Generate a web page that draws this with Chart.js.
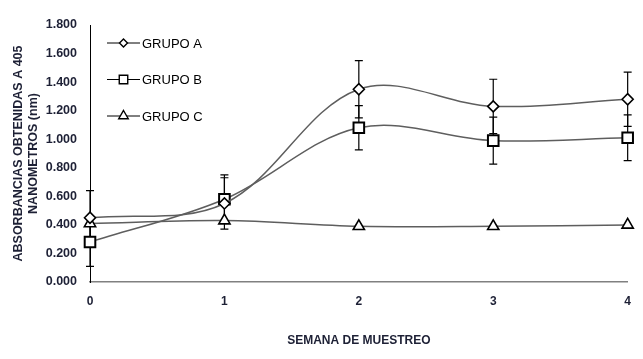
<!DOCTYPE html>
<html>
<head>
<meta charset="utf-8">
<script src="https://cdn.jsdelivr.net/npm/chart.js@4/dist/chart.umd.min.js"></script>
<style>
  html, body { margin: 0; padding: 0; background: #fff; }
  #wrap { width: 643px; height: 359px; position: relative; }
</style>
</head>
<body>
<div id="wrap"><canvas id="chart"></canvas></div>
<script>
// datos
const semanas = [0, 1, 2, 3, 4];
const grupoA = [0.45, 0.55, 1.35, 1.23, 1.28];
const grupoB = [0.28, 0.58, 1.08, 0.99, 1.01];
const grupoC = [0.41, 0.43, 0.39, 0.39, 0.40];
const errorA = [0.19, 0.18, 0.20, 0.19, 0.19];
const errorB = [0.17, 0.17, 0.155, 0.165, 0.16];
const errorC = [0, 0, 0, 0, 0];
const etiquetas = ["GRUPO A", "GRUPO B", "GRUPO C"];
const yTitulo = ["ABSORBANCIAS OBTENIDAS A 405", "NANOMETROS (nm)"];
const xTitulo = "SEMANA DE MUESTREO";

const textColor = "#1d2035";
Chart.defaults.font.family = "'Liberation Sans', Arial, sans-serif";

function toPoints(vals) {
  return semanas.map((s, i) => ({ x: s, y: vals[i] }));
}

// dibuja un marcador simple (para la leyenda)
function drawMarker(ctx, style, x, y, r, lw) {
  ctx.save();
  ctx.beginPath();
  if (style === "rectRot") {
    ctx.moveTo(x, y - r); ctx.lineTo(x + r, y); ctx.lineTo(x, y + r); ctx.lineTo(x - r, y);
    ctx.closePath();
  } else if (style === "rect") {
    const s = r * Math.SQRT1_2;
    ctx.rect(x - s, y - s, 2 * s, 2 * s);
  } else {
    ctx.moveTo(x, y - r);
    ctx.lineTo(x + r * 0.866, y + r * 0.5);
    ctx.lineTo(x - r * 0.866, y + r * 0.5);
    ctx.closePath();
  }
  ctx.fillStyle = "#fff";
  ctx.fill();
  ctx.lineWidth = lw;
  ctx.strokeStyle = "#000";
  ctx.stroke();
  ctx.restore();
}

// barras de error (desviación) con la escala del gráfico
const errorBars = {
  id: "errorBars",
  beforeDatasetsDraw(chart) {
    const ctx = chart.ctx;
    const xs = chart.scales.x, ys = chart.scales.y;
    const errs = [errorA, errorB, errorC];
    ctx.save();
    ctx.strokeStyle = "#000";
    ctx.lineWidth = 1.2;
    chart.data.datasets.forEach((ds, di) => {
      ds.data.forEach((p, i) => {
        const e = errs[di][i];
        if (!e) return;
        const px = xs.getPixelForValue(p.x);
        const top = ys.getPixelForValue(p.y + e);
        const bot = ys.getPixelForValue(p.y - e);
        ctx.beginPath();
        ctx.moveTo(px, top); ctx.lineTo(px, bot);
        ctx.moveTo(px - 4, top); ctx.lineTo(px + 4, top);
        ctx.moveTo(px - 4, bot); ctx.lineTo(px + 4, bot);
        ctx.stroke();
      });
    });
    ctx.restore();
  }
};

// leyenda dentro del área del gráfico
const legendInside = {
  id: "legendInside",
  afterDraw(chart) {
    const ctx = chart.ctx;
    const area = chart.chartArea;
    const x0 = area.left + 17, x1 = area.left + 50;
    chart.data.datasets.forEach((ds, i) => {
      const y = area.top + 18 + i * 36.5;
      ctx.save();
      ctx.strokeStyle = "#000";
      ctx.lineWidth = 1;
      ctx.beginPath(); ctx.moveTo(x0, y); ctx.lineTo(x1, y); ctx.stroke();
      drawMarker(ctx, ds.pointStyle, (x0 + x1) / 2, y, ds.legendR, 1.4);
      ctx.fillStyle = "#000";
      ctx.font = "13px 'Liberation Sans', Arial, sans-serif";
      ctx.textBaseline = "middle";
      ctx.fillText(ds.label, x1 + 2, y + 1);
      ctx.restore();
    });
  }
};

const baseDs = {
  borderColor: "#5e5e5e",
  borderWidth: 1.5,
  backgroundColor: "#fff",
  pointBackgroundColor: "#fff",
  pointBorderColor: "#000",
  tension: 0.35,
  clip: false,
  fill: false
};

new Chart(document.getElementById("chart"), {
  type: "line",
  data: {
    datasets: [
      Object.assign({}, baseDs, { label: etiquetas[0], data: toPoints(grupoA), pointStyle: "rectRot", pointRadius: 5.5, pointBorderWidth: 1.6, legendR: 4 }),
      Object.assign({}, baseDs, { label: etiquetas[1], data: toPoints(grupoB), pointStyle: "rect", pointRadius: 7.5, pointBorderWidth: 2, legendR: 6 }),
      Object.assign({}, baseDs, { label: etiquetas[2], data: toPoints(grupoC), pointStyle: "triangle", pointRadius: 6.5, pointBorderWidth: 1.6, legendR: 5.5 })
    ]
  },
  options: {
    responsive: true,
    maintainAspectRatio: false,
    animation: false,
    layout: { padding: { top: 25, right: 14, left: 0, bottom: 0 } },
    plugins: {
      legend: { display: false },
      tooltip: { enabled: false }
    },
    scales: {
      x: {
        type: "linear",
        min: 0,
        max: 4,
        afterFit: s => { s.height = 77; },
        grid: { display: false, drawTicks: false },
        border: { display: true, color: "#808080", width: 1.5 },
        ticks: {
          stepSize: 1,
          padding: 12,
          color: textColor,
          font: { size: 12, weight: "bold" }
        },
        title: {
          display: true,
          text: xTitulo,
          color: textColor,
          font: { size: 12, weight: "bold" },
          padding: { top: 0, bottom: 11 }
        }
      },
      y: {
        min: 0,
        max: 1.8,
        afterFit: s => { s.width = 90; },
        grid: { display: false, drawTicks: false },
        border: { display: true, color: "#000", width: 1 },
        ticks: {
          stepSize: 0.2,
          padding: 13,
          color: textColor,
          font: { size: 12.5, weight: "bold" },
          callback: v => v.toFixed(3)
        },
        title: {
          display: true,
          text: yTitulo,
          color: textColor,
          font: { size: 12.5, weight: "bold", lineHeight: 1.2 },
          padding: { top: 11, bottom: 0 }
        }
      }
    }
  },
  plugins: [errorBars, legendInside]
});
</script>
</body>
</html>
